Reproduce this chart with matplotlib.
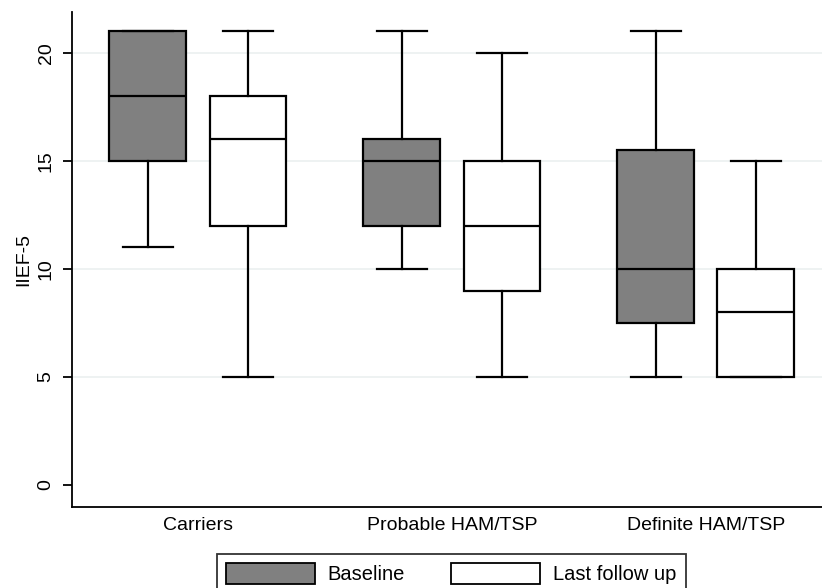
import matplotlib.pyplot as plt
from matplotlib.patches import Patch

plt.rcParams['font.family'] = ['Liberation Sans', 'DejaVu Sans']

groups = ["Carriers", "Probable HAM/TSP", "Definite HAM/TSP"]
series = ["Baseline", "Last follow up"]

# per group: [baseline, last follow up]
whislo = [[11, 5], [10, 5], [5, 5]]
q1 = [[15, 12], [12, 9], [7.5, 5]]
med = [[18, 16], [15, 12], [10, 8]]
q3 = [[21, 18], [16, 15], [15.5, 10]]
whishi = [[21, 21], [21, 20], [21, 15]]

colors = ["#808080", "white"]

fig = plt.figure(figsize=(8.22, 5.88), dpi=100)
ax = fig.add_axes([0.0876, 0.1378, 0.9124, 0.8418])

offset = 0.197
for s in range(2):
    stats = []
    pos = []
    for g in range(len(groups)):
        stats.append(dict(whislo=whislo[g][s], q1=q1[g][s], med=med[g][s],
                          q3=q3[g][s], whishi=whishi[g][s], fliers=[]))
        pos.append(g + (s * 2 - 1) * offset)
    ax.bxp(stats, positions=pos, widths=0.303, patch_artist=True,
           showfliers=False, manage_ticks=False,
           boxprops=dict(facecolor=colors[s], edgecolor="black", linewidth=1.6),
           medianprops=dict(color="black", linewidth=1.6),
           whiskerprops=dict(color="black", linewidth=1.6),
           capprops=dict(color="black", linewidth=1.6),
           capwidths=0.2)

ax.set_xlim(-0.496, 2.457)
ax.set_ylim(-1.02, 21.9)
ax.set_xticks(range(len(groups)))
ax.set_xticklabels(groups, fontsize=14)
ax.tick_params(axis="x", length=0, pad=7)
ax.set_yticks([0, 5, 10, 15, 20])
ax.set_yticklabels(["0", "5", "10", "15", "20"], rotation=90, va="center", fontsize=14)
ax.tick_params(axis="y", length=6.5, width=1.3, pad=6)
ax.set_ylabel("IIEF-5", fontsize=14, labelpad=4)
for v in [5, 10, 15, 20]:
    ax.axhline(v, color="#ebf0f0", linewidth=1.2, zorder=0)
ax.spines["top"].set_visible(False)
ax.spines["right"].set_visible(False)
ax.spines["left"].set_linewidth(1.3)
ax.spines["bottom"].set_linewidth(1.3)

handles = [Patch(facecolor=colors[i], edgecolor="black", linewidth=1.3) for i in range(2)]
leg = fig.legend(handles, series, loc="upper left", bbox_to_anchor=(217 / 822, 34 / 588),
                 ncol=2, fontsize=14.5, frameon=True, fancybox=False,
                 handlelength=4.4, handleheight=1.2, handletextpad=0.65,
                 columnspacing=2.3, borderpad=0.45, borderaxespad=0,
                 edgecolor="black")
leg.get_frame().set_linewidth(1.3)

fig.savefig("out.png", dpi=100)
